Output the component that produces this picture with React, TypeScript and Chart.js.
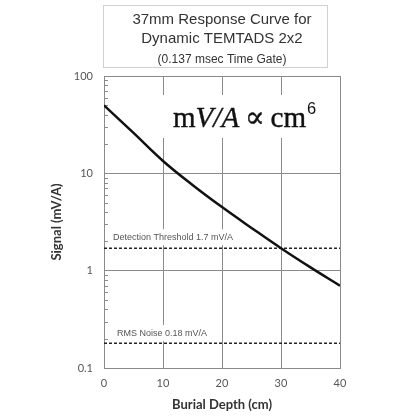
import React, { useEffect, useRef } from "react";
import { Chart, registerables } from "chart.js";

Chart.register(...registerables);

const depths = [0, 5, 10, 15, 20, 25, 30, 35, 40];
const signal = [50, 26, 13.4, 7.6, 4.5, 2.75, 1.7, 1.08, 0.7];
const thresholdValue = 1.7;
const noiseValue = 0.18;
const xRange = [0, 40];
const yRange = [0.1, 100];
const titleLines = ["37mm Response Curve for", "Dynamic TEMTADS 2x2", "(0.137 msec Time Gate)"];
const thresholdLabel = "Detection Threshold 1.7 mV/A";
const noiseLabel = "RMS Noise 0.18 mV/A";
const xTitle = "Burial Depth (cm)";
const yTitle = "Signal (mV/A)";

const GRID = "#8a8a8a";

function isMajor(v: number) {
  const l = Math.log10(v);
  return Math.abs(l - Math.round(l)) < 1e-6;
}

const decorPlugin = {
  id: "decor",
  beforeDatasetsDraw(chart: any) {
    const { ctx, chartArea, scales } = chart;
    const ys = scales.y;
    const L = chartArea.left;
    const R = chartArea.right;
    ctx.save();
    ctx.strokeStyle = GRID;
    ctx.lineWidth = 1;
    for (let d = -1; d < 2; d++) {
      for (let k = 2; k < 10; k++) {
        const py = Math.round(ys.getPixelForValue(k * Math.pow(10, d))) + 0.5;
        ctx.beginPath();
        ctx.moveTo(L, py);
        ctx.lineTo(L + 4, py);
        ctx.stroke();
      }
    }
    const ty = ys.getPixelForValue(thresholdValue);
    ctx.fillStyle = "#ffffff";
    ctx.fillRect(L + 5, ty - 19, 140, 16);
    ctx.fillStyle = "#555";
    ctx.font = "9px 'Liberation Sans'";
    ctx.textBaseline = "middle";
    ctx.textAlign = "left";
    ctx.fillText(thresholdLabel, L + 9, ty - 11);
    const ny = ys.getPixelForValue(noiseValue);
    ctx.fillStyle = "#ffffff";
    ctx.fillRect(L + 6, ny - 18, 104, 16);
    ctx.fillStyle = "#555";
    ctx.fillText(noiseLabel, L + 13, ny - 10);
    ctx.fillStyle = "#ffffff";
    ctx.fillRect(L + 50, chartArea.top + 19, R - L - 55, 43);
    ctx.restore();

    // formula text: mV/A ∝ cm^6
    ctx.save();
    const baseX = L + 69;
    const baseY = chartArea.top + 51;
    const parts: [string, string][] = [
      ["m", "30px 'Liberation Serif'"],
      ["V/A", "italic 30px 'Liberation Serif'"],
      ["\u2009\u221D\u2009", "30px 'DejaVu Serif'"],
      ["cm", "30px 'Liberation Serif'"],
    ];
    let total = 0;
    for (const [t, f] of parts) {
      ctx.font = f;
      total += ctx.measureText(t).width;
    }
    const sx = 133 / total;
    ctx.translate(baseX, baseY);
    ctx.scale(sx, 1);
    ctx.fillStyle = "#111";
    ctx.strokeStyle = "#111";
    ctx.lineWidth = 0.4;
    ctx.textBaseline = "alphabetic";
    ctx.textAlign = "left";
    let cx = 0;
    for (const [t, f] of parts) {
      ctx.font = f;
      ctx.fillText(t, cx, 0);
      ctx.strokeText(t, cx, 0);
      cx += ctx.measureText(t).width;
    }
    ctx.font = "17px 'Liberation Sans'";
    ctx.fillText("6", cx + 1, -13);
    ctx.restore();
  },
  afterDraw(chart: any) {
    const { ctx } = chart;
    ctx.save();
    ctx.strokeStyle = "#d0d0d0";
    ctx.lineWidth = 1;
    ctx.strokeRect(103.5, 5.5, 224, 62);
    ctx.fillStyle = "#333";
    ctx.textAlign = "center";
    ctx.textBaseline = "alphabetic";
    ctx.font = "15px 'Liberation Sans'";
    ctx.fillText(titleLines[0], 222, 24);
    ctx.fillText(titleLines[1], 222, 43);
    ctx.font = "12px 'Liberation Sans'";
    ctx.fillText(titleLines[2], 222, 63);
    ctx.restore();
  },
};

export default function App() {
  const ref = useRef<HTMLCanvasElement | null>(null);
  useEffect(() => {
    if (!ref.current) return;
    const chart = new Chart(ref.current, {
      type: "line",
      data: {
        datasets: [
          {
            data: depths.map((d, i) => ({ x: d, y: signal[i] })),
            borderColor: "#111",
            borderWidth: 2.5,
            pointRadius: 0,
            tension: 0.4,
            fill: false,
          },
          {
            data: [
              { x: xRange[0], y: thresholdValue },
              { x: xRange[1], y: thresholdValue },
            ],
            borderColor: "#222",
            borderWidth: 1.5,
            borderDash: [3, 2],
            pointRadius: 0,
          },
          {
            data: [
              { x: xRange[0], y: noiseValue },
              { x: xRange[1], y: noiseValue },
            ],
            borderColor: "#222",
            borderWidth: 1.5,
            borderDash: [3, 2],
            pointRadius: 0,
          },
        ],
      },
      options: {
        animation: false,
        responsive: false,
        devicePixelRatio: 1,
        layout: { padding: { top: 76, left: 49, right: 61, bottom: 0 } },
        plugins: { legend: { display: false }, tooltip: { enabled: false } },
        scales: {
          x: {
            type: "linear",
            min: xRange[0],
            max: xRange[1],
            afterFit: (s: any) => {
              s.height = 48;
            },
            ticks: {
              stepSize: 10,
              padding: 9,
              color: "#555",
              font: { family: "Lato", size: 11 },
            },
            grid: { color: GRID, drawTicks: false, lineWidth: 1 },
            border: { color: GRID },
            title: {
              display: true,
              text: xTitle,
              color: "#333",
              font: { family: "Lato", size: 13, weight: "bold" },
              padding: { top: 0, bottom: 3 },
            },
          },
          y: {
            type: "logarithmic",
            min: yRange[0],
            max: yRange[1],
            afterFit: (s: any) => {
              s.width = 55;
            },
            ticks: {
              autoSkip: false,
              padding: 11,
              color: "#555",
              font: { family: "Lato", size: 11 },
              callback: (v: any) => (isMajor(Number(v)) ? String(Number(v)) : ""),
            },
            grid: {
              color: (c: any) => (c.tick && isMajor(c.tick.value) ? GRID : "rgba(0,0,0,0)"),
              drawTicks: false,
              lineWidth: 1,
            },
            border: { color: GRID },
            title: {
              display: true,
              text: yTitle,
              color: "#333",
              font: { family: "Lato", size: 13, weight: "bold" },
              padding: 0,
            },
          },
        },
      },
      plugins: [decorPlugin],
    } as any);
    return () => chart.destroy();
  }, []);
  return (
    <div style={{ position: "absolute", left: 0, top: 0, width: 401, height: 416, background: "#fff" }}>
      <canvas ref={ref} width={401} height={416} style={{ width: 401, height: 416, display: "block" }} />
    </div>
  );
}
